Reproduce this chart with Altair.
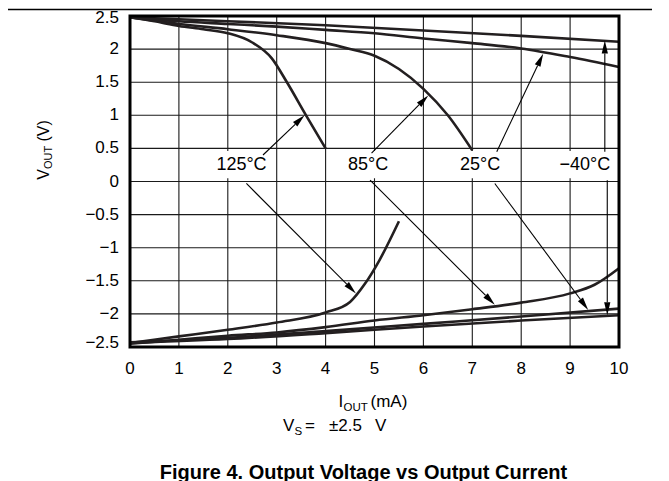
import math
import altair as alt
import pandas as pd

# ---------------- data ----------------
x_125p = [0, 0.5, 1, 1.5, 2, 2.5, 2.9, 3.2, 3.6, 4.0]
v_125p = [2.48, 2.42, 2.35, 2.30, 2.24, 2.10, 1.86, 1.51, 1.0, 0.5]

x_85p = [0, 1, 2, 3, 4, 4.5, 5, 5.5, 6, 6.5, 7]
v_85p = [2.48, 2.38, 2.30, 2.21, 2.09, 2.0, 1.90, 1.70, 1.40, 1.0, 0.47]

x_25p = [0, 1, 2, 3, 4, 5, 6, 7, 8, 9, 10]
v_25p = [2.48, 2.42, 2.38, 2.34, 2.29, 2.24, 2.16, 2.09, 2.01, 1.88, 1.73]

x_m40p = [0, 2, 4, 6, 8, 10]
v_m40p = [2.48, 2.42, 2.36, 2.28, 2.20, 2.11]

x_125n = [0, 1, 2, 3, 4, 4.5, 4.8, 5.1, 5.5]
v_125n = [-2.44, -2.34, -2.24, -2.13, -1.98, -1.82, -1.55, -1.19, -0.6]

x_85n = [0, 1, 2, 3, 4, 5, 6, 7, 8, 9, 9.5, 10]
v_85n = [-2.45, -2.39, -2.33, -2.28, -2.20, -2.10, -2.02, -1.93, -1.83, -1.69, -1.56, -1.31]

x_25n = [0, 2, 4, 6, 8, 10]
v_25n = [-2.43, -2.36, -2.26, -2.15, -2.04, -1.92]

x_m40n = [0, 2, 4, 6, 8, 10]
v_m40n = [-2.44, -2.38, -2.29, -2.19, -2.10, -2.02]

x_ticks = [0, 1, 2, 3, 4, 5, 6, 7, 8, 9, 10]
y_ticks = [-2.5, -2, -1.5, -1, -0.5, 0, 0.5, 1, 1.5, 2, 2.5]

label_text = ["125°C", "85°C", "25°C", "\u221240°C"]
label_x = [2.28, 4.87, 7.16, 9.30]
label_y = [0.25, 0.25, 0.25, 0.25]
label_halfw = [0.6, 0.5, 0.5, 0.62]
box_y_lo, box_y_hi = 0.05, 0.46

arrow_x1 = [2.72, 2.38, 4.94, 4.91, 7.50, 7.46, 9.71, 9.76]
arrow_y1 = [0.40, -0.03, 0.43, 0.02, 0.45, -0.03, 0.45, 0.02]
arrow_x2 = [3.57, 4.62, 6.10, 7.46, 8.45, 9.37, 9.71, 9.76]
arrow_y2 = [1.00, -1.69, 1.30, -1.86, 1.93, -1.94, 2.13, -2.02]

# ---------------- layout ----------------
W, H = 489, 331
XD = [0, 10]
YD = [-2.5, 2.5]
PX_X = W / (XD[1] - XD[0])
PX_Y = H / (YD[1] - YD[0])
FONT = "Liberation Sans"
INK = "#231f20"
GRID = "#1a1a1a"

xscale = alt.Scale(domain=XD, nice=False, zero=False)
yscale = alt.Scale(domain=YD, nice=False, zero=False)


def X(field):
    return alt.X(field, scale=xscale, axis=None)


def Y(field):
    return alt.Y(field, scale=yscale, axis=None)


rows = []
for name, xs, vs in [
    ("125p", x_125p, v_125p), ("85p", x_85p, v_85p), ("25p", x_25p, v_25p),
    ("m40p", x_m40p, v_m40p), ("125n", x_125n, v_125n), ("85n", x_85n, v_85n),
    ("25n", x_25n, v_25n), ("m40n", x_m40n, v_m40n)]:
    for i, (a, b) in enumerate(zip(xs, vs)):
        rows.append({"id": name, "x": a, "v": b, "o": i})
curves = pd.DataFrame(rows)

xt = pd.DataFrame({"x": x_ticks})
yt = pd.DataFrame({"y": y_ticks})

xgrid = alt.Chart(xt).mark_rule(color=GRID, strokeWidth=1.1).encode(
    x=X("x:Q"), y=alt.value(0), y2=alt.value(H))
ygrid = alt.Chart(yt).mark_rule(color=GRID, strokeWidth=1.1).encode(
    y=Y("y:Q"), x=alt.value(0), x2=alt.value(W))
xlab = alt.Chart(xt).mark_text(
    font=FONT, fontSize=17, color="black", align="center", baseline="top"
).encode(x=X("x:Q"), y=alt.value(H + 14), text=alt.Text("x:Q", format="~g"))


def ylab_layer(cond, dy):
    return alt.Chart(yt).transform_filter(cond).mark_text(
        font=FONT, fontSize=17, color="black", align="right", baseline="middle",
        dy=dy
    ).encode(y=Y("y:Q"), x=alt.value(-11), text=alt.Text("y:Q", format="~g"))


ylab_mid = ylab_layer("abs(datum.y) < 2.4", 0)
ylab_top = ylab_layer("datum.y > 2.4", 2)
ylab_bot = ylab_layer("datum.y < -2.4", -4)

frame = alt.Chart(xt.head(1)).mark_rect(
    fill=None, stroke="black", strokeWidth=3
).encode(x=alt.value(0), x2=alt.value(W), y=alt.value(0), y2=alt.value(H))

base_lines = alt.Chart(curves).mark_line(
    color=INK, strokeWidth=2.6, interpolate="monotone"
).encode(x=X("x:Q"), y=Y("v:Q"), detail="id:N", order="o:Q")

# label boxes and text
lab = pd.DataFrame({
    "t": label_text, "x": label_x, "y": label_y,
    "xa": [a - h for a, h in zip(label_x, label_halfw)],
    "xb": [a + h for a, h in zip(label_x, label_halfw)],
    "ya": [box_y_lo] * 4, "yb": [box_y_hi] * 4,
})
boxes = alt.Chart(lab).mark_rect(color="white").encode(
    x=X("xa:Q"), x2="xb:Q", y=Y("ya:Q"), y2="yb:Q")
labels = alt.Chart(lab).mark_text(
    font=FONT, fontSize=18, color="black", baseline="middle", align="center"
).encode(x=X("x:Q"), y=Y("y:Q"), text="t:N")

# arrows
R = 6.5
arr_rows = []
for a, b, c, d in zip(arrow_x1, arrow_y1, arrow_x2, arrow_y2):
    dxp = (c - a) * PX_X
    dyp = -(d - b) * PX_Y
    L = math.hypot(dxp, dyp)
    ux, uy = dxp / L, dyp / L
    ang = math.degrees(math.atan2(ux, -uy)) % 360
    arr_rows.append({"x1": a, "y1": b,
                     "lx": c - ux * 2 * R / PX_X, "ly": d + uy * 2 * R / PX_Y,
                     "hx": c - ux * R / PX_X, "hy": d + uy * R / PX_Y,
                     "ang": ang})
arr = pd.DataFrame(arr_rows)
shafts = alt.Chart(arr).mark_rule(color="black", strokeWidth=1.1).encode(
    x=X("x1:Q"), y=Y("y1:Q"), x2="lx:Q", y2="ly:Q")
heads = alt.Chart(arr).mark_point(
    shape="M0,-1L0.48,1L-0.48,1Z", filled=True, size=169, color="black", opacity=1
).encode(x=X("hx:Q"), y=Y("hy:Q"), angle=alt.Angle("ang:Q", scale=None))

# free texts (pixel positions relative to plot origin at page (130,16))
OX, OY = 130, 16
ft = pd.DataFrame([
    # x-axis title
    {"t": "I", "px": 338.5 - OX, "py": 407 - OY, "fs": 17, "a": 0},
    {"t": "OUT", "px": 343.5 - OX, "py": 410.5 - OY, "fs": 11.5, "a": 0},
    {"t": "(mA)", "px": 370.5 - OX, "py": 407 - OY, "fs": 17, "a": 0},
    # supply note
    {"t": "V", "px": 283 - OX, "py": 431 - OY, "fs": 17, "a": 0},
    {"t": "S", "px": 294.5 - OX, "py": 435 - OY, "fs": 11.5, "a": 0},
    {"t": "=", "px": 305 - OX, "py": 431 - OY, "fs": 17, "a": 0},
    {"t": "±2.5", "px": 329 - OX, "py": 431 - OY, "fs": 17, "a": 0},
    {"t": "V", "px": 375 - OX, "py": 431 - OY, "fs": 17, "a": 0},
    # y-axis title (rotated)
    {"t": "V", "px": 48.5 - OX, "py": 179.8 - OY, "fs": 16, "a": 270},
    {"t": "OUT", "px": 51.5 - OX, "py": 169.1 - OY, "fs": 11, "a": 270},
    {"t": "(V)", "px": 48.5 - OX, "py": 141.5 - OY, "fs": 16, "a": 270},
])
free_text = alt.Chart(ft).mark_text(
    font=FONT, color="black", align="left", baseline="alphabetic"
).encode(
    x=alt.X("px:Q", scale=None, axis=None), y=alt.Y("py:Q", scale=None, axis=None),
    text="t:N",
    size=alt.Size("fs:Q", scale=None, legend=None),
    angle=alt.Angle("a:Q", scale=None),
)

title_df = pd.DataFrame({"t": ["Figure 4. Output Voltage vs Output Current"],
                         "px": [363.5 - OX], "py": [478.5 - OY]})
title_text = alt.Chart(title_df).mark_text(
    font=FONT, fontSize=20, fontWeight="bold", color="black",
    align="center", baseline="alphabetic"
).encode(x=alt.X("px:Q", scale=None, axis=None),
         y=alt.Y("py:Q", scale=None, axis=None), text="t:N")

top_rule = alt.Chart(title_df).mark_rule(color="black", strokeWidth=1.5).encode(
    x=alt.value(8 - OX), x2=alt.value(652 - OX), y=alt.value(9.5 - OY))

chart = alt.layer(
    xgrid, ygrid, base_lines, boxes, shafts, heads, labels, frame,
    xlab, ylab_mid, ylab_top, ylab_bot, free_text, title_text, top_rule
).properties(
    width=W, height=H,
    padding={"left": 122, "top": 8, "right": 42, "bottom": 134},
    autosize=alt.AutoSizeParams(type="none"),
    background="white",
).configure_view(stroke=None)

chart.save("out.html", embed_options={"renderer": "svg", "actions": False})
